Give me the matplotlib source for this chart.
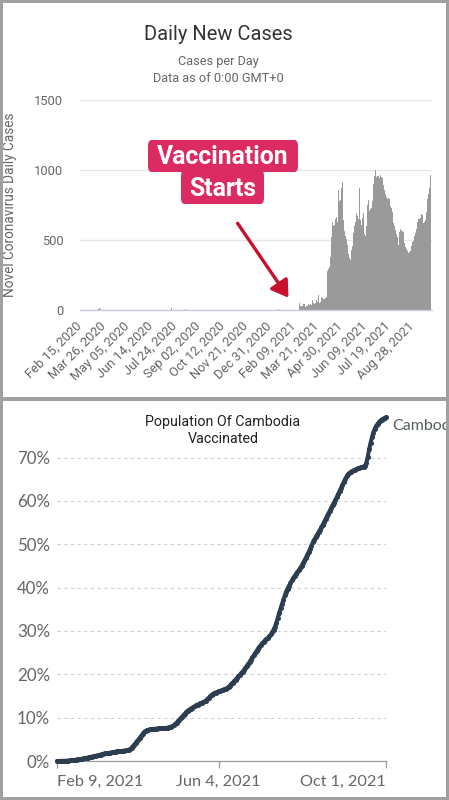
import matplotlib
matplotlib.use("Agg")
import matplotlib.pyplot as plt
from matplotlib.patches import Rectangle, FancyBboxPatch, FancyArrowPatch
import numpy as np
import pandas as pd

W, H = 449, 800

# --- top: daily new cases, Feb 15 2020 .. Sep 29 2021
case_start = "2020-02-15"
case_end = "2021-09-29"
early_dates = ["2020-03-17", "2020-03-18", "2020-03-19", "2020-03-20",
               "2020-07-14", "2020-07-18", "2020-07-19", "2020-08-11", "2021-01-14"]
early_cases = [8, 12, 26, 10, 14, 12, 16, 6, 8]
wave_start = "2021-02-18"
wave_cases = [
    36, 50, 60, 30, 30, 25, 30, 35, 43, 40,
    24, 24, 20, 26, 30, 60, 45, 36, 38, 40,
    32, 36, 50, 70, 95, 52, 45, 43, 50, 60,
    71, 55, 52, 110, 166, 48, 60, 80, 95, 85,
    83, 78, 76, 80, 83, 85, 90, 560, 280, 262,
    290, 300, 310, 380, 428, 520, 595, 630, 600, 570,
    610, 630, 650, 666, 640, 630, 720, 857, 780, 738,
    785, 800, 870, 916, 700, 640, 595, 565, 547, 530,
    510, 476, 465, 445, 400, 370, 345, 360, 385, 430,
    460, 520, 550, 571, 600, 630, 660, 690, 714, 670,
    650, 820, 868, 640, 640, 620, 607, 660, 714, 690,
    660, 540, 530, 524, 600, 690, 750, 785, 705, 708,
    714, 720, 728, 736, 780, 821, 900, 960, 1107, 1000,
    976, 950, 945, 960, 958, 952, 945, 945, 965, 950,
    920, 940, 960, 890, 860, 835, 827, 820, 805, 795,
    787, 800, 845, 790, 745, 730, 730, 738, 700, 670,
    620, 600, 585, 570, 555, 540, 520, 490, 465, 440,
    560, 575, 583, 565, 550, 565, 560, 495, 480, 464,
    450, 438, 430, 422, 416, 408, 405, 412, 420, 438,
    460, 478, 485, 495, 510, 525, 538, 550, 580, 615,
    625, 632, 650, 652, 642, 660, 678, 688, 680, 625,
    619, 619, 625, 632, 640, 700, 770, 790, 810, 830,
    870, 935, 964, 970,
]
case_ticks = ["Feb 15, 2020", "Mar 26, 2020", "May 05, 2020", "Jun 14, 2020",
              "Jul 24, 2020", "Sep 02, 2020", "Oct 12, 2020", "Nov 21, 2020",
              "Dec 31, 2020", "Feb 09, 2021", "Mar 21, 2021", "Apr 30, 2021",
              "Jun 09, 2021", "Jul 19, 2021", "Aug 28, 2021"]

# --- bottom: share of population vaccinated (%), Feb 9 2021 .. Oct 1 2021
vax_start = "2021-02-09"
vax_pct = [
    0.00, 0.00, 0.01, 0.02, 0.03, 0.04, 0.05, 0.07, 0.09, 0.12, 0.15,
    0.18, 0.22, 0.27, 0.32, 0.37, 0.42, 0.48, 0.55, 0.60, 0.66,
    0.73, 0.80, 0.88, 0.95, 1.02, 1.10, 1.16, 1.22, 1.30, 1.38,
    1.48, 1.58, 1.68, 1.75, 1.80, 1.84, 1.88, 1.92, 1.97, 2.05,
    2.12, 2.17, 2.21, 2.25, 2.28, 2.32, 2.36, 2.40, 2.44, 2.50,
    2.58, 2.75, 3.05, 3.40, 3.80, 4.20, 4.60, 5.00, 5.40, 5.85,
    6.30, 6.70, 6.95, 7.10, 7.20, 7.28, 7.34, 7.38, 7.42, 7.46,
    7.48, 7.50, 7.52, 7.54, 7.56, 7.58, 7.60, 7.64, 7.70, 7.78,
    7.88, 8.00, 8.20, 8.50, 8.85, 9.20, 9.55, 9.90, 10.25, 10.60,
    10.95, 11.30, 11.60, 11.85, 12.05, 12.25, 12.45, 12.65, 12.85, 13.00,
    13.15, 13.30, 13.45, 13.60, 13.75, 13.95, 14.25, 14.60, 14.95, 15.25,
    15.50, 15.65, 15.80, 15.95, 16.10, 16.20, 16.30, 16.40, 16.50, 16.65,
    16.85, 17.10, 17.40, 17.75, 18.10, 18.45, 18.80, 19.15, 19.50, 19.85,
    20.20, 20.60, 21.05, 21.50, 21.95, 22.40, 22.90, 23.40, 23.90, 24.40,
    24.90, 25.45, 25.95, 26.40, 26.80, 27.15, 27.50, 27.85, 28.15, 28.45,
    28.80, 29.20, 29.70, 30.30, 31.00, 31.90, 33.00, 34.10, 35.20, 36.20,
    37.20, 38.20, 39.10, 39.80, 40.45, 41.05, 41.65, 42.20, 42.70, 43.15,
    43.60, 44.05, 44.50, 45.05, 45.65, 46.25, 46.90, 47.55, 48.20, 48.90,
    49.70, 50.50, 51.10, 51.65, 52.20, 52.75, 53.30, 53.90, 54.50, 55.15,
    55.80, 56.45, 57.10, 57.75, 58.40, 59.05, 59.60, 60.25, 60.90, 61.60,
    62.30, 63.00, 63.70, 64.40, 65.10, 65.70, 66.15, 66.45, 66.70, 66.90,
    67.05, 67.20, 67.35, 67.50, 67.62, 67.75, 67.85, 67.95, 68.10, 68.70,
    70.20, 71.90, 73.40, 74.70, 75.80, 76.70, 77.30, 77.80, 78.20, 78.55,
    78.80, 79.00, 79.15, 79.30,
]
vax_ticks = ["Feb 9, 2021", "Jun 4, 2021", "Oct 1, 2021"]
vax_yticks = [0, 10, 20, 30, 40, 50, 60, 70]
vax_label = "Cambod"   # series label, cut off by the frame in the original


def fx(px):
    return px / W


def fy(py):
    return 1 - py / H


ROBOTO = ["Roboto", "DejaVu Sans"]
LATO = ["Lato", "DejaVu Sans"]

fig = plt.figure(figsize=(W / 100, H / 100), dpi=100, facecolor="white")

# ---------------- top panel ----------------
days = pd.date_range(case_start, case_end, freq="D")
cases = pd.Series(0.0, index=days)
cases[pd.to_datetime(early_dates)] = early_cases
wave_idx = pd.date_range(wave_start, periods=len(wave_cases), freq="D")
cases[wave_idx] = wave_cases
xpos = np.arange(len(days))

ax = fig.add_axes([fx(80), fy(310), 352 / W, 210 / H])
ax.bar(xpos, cases.values, width=1.0, color="#9a9a9a", edgecolor="none", zorder=2)
ax.set_xlim(-0.5, len(days) + 0.5)
ax.set_ylim(0, 1500)
ax.set_yticks([0, 500, 1000, 1500])
ax.grid(axis="y", color="#e6e6e6", lw=1, zorder=0)
for s in ["top", "right", "left"]:
    ax.spines[s].set_visible(False)
ax.spines["bottom"].set_color("#c8ced8")
ax.spines["bottom"].set_linewidth(1)
tick_pos = [(pd.to_datetime(t, format="%b %d, %Y") - days[0]).days for t in case_ticks]
ax.set_xticks(tick_pos)
ax.set_xticklabels(case_ticks, rotation=45, ha="right", va="center",
                   rotation_mode="anchor", family=ROBOTO, fontsize=9.3, color="#666666")
ax.tick_params(axis="x", length=0, pad=10)
ax.tick_params(axis="y", length=0, pad=12, labelsize=9.3, labelcolor="#666666")
for lb in ax.get_yticklabels():
    lb.set_family(ROBOTO)
ax.set_ylabel("Novel Coronavirus Daily Cases", family=ROBOTO, fontsize=9.8, color="#666666")
ax.yaxis.set_label_coords(-0.179, 0.5)

fig.text(fx(218), fy(34), "Daily New Cases", ha="center", va="center",
         family=ROBOTO, fontsize=14.5, color="#333333")
fig.text(fx(218), fy(61), "Cases per Day", ha="center", va="center",
         family=ROBOTO, fontsize=9.2, color="#666666")
fig.text(fx(218), fy(79), "Data as of 0:00 GMT+0", ha="center", va="center",
         family=ROBOTO, fontsize=9.2, color="#666666")

# annotation boxes + arrow
PINK = "#dc2b62"
for (x0, y0, x1, y1) in [(148, 140, 298, 172), (181, 170, 264, 204)]:
    fig.add_artist(FancyBboxPatch((fx(x0), fy(y1)), (x1 - x0) / W, (y1 - y0) / H,
                                  boxstyle="round,pad=0,rounding_size=0.008",
                                  transform=fig.transFigure, facecolor=PINK,
                                  edgecolor="none", zorder=5))
fig.text(fx(223), fy(157), "Vaccination", ha="center", va="center", family=ROBOTO,
         fontsize=17.8, fontweight="bold", color="white", zorder=6)
fig.text(fx(222.5), fy(189), "Starts", ha="center", va="center", family=ROBOTO,
         fontsize=17.8, fontweight="bold", color="white", zorder=6)
fig.add_artist(FancyArrowPatch((fx(236), fy(221)), (fx(290), fy(300)),
                               transform=fig.transFigure,
                               arrowstyle="-|>,head_length=0.55,head_width=0.35",
                               mutation_scale=18, color="#c8102e", lw=2.4, zorder=6))

# ---------------- bottom panel ----------------
vdates = pd.date_range(vax_start, periods=len(vax_pct), freq="D")
bx = fig.add_axes([fx(57), fy(761), 329 / W, 346.7 / H])
bx.plot(vdates, vax_pct, color="#2c3d50", lw=2.9, marker="o", ms=3.6,
        markeredgewidth=0, solid_capstyle="round", clip_on=False, zorder=3)
bx.set_xlim(vdates[0], vdates[-1])
bx.set_ylim(0, 80)
bx.set_yticks(vax_yticks)
bx.set_yticklabels([f"{v}%" for v in vax_yticks], family=LATO, fontsize=12.2, color="#666666")
for v in vax_yticks[1:]:
    bx.axhline(v, color="#d0d0d0", lw=0.8, ls=(0, (3, 3)), zorder=1)
for s in ["top", "right", "left"]:
    bx.spines[s].set_visible(False)
bx.spines["bottom"].set_color("#999999")
bx.spines["bottom"].set_linewidth(0.9)
bx.tick_params(axis="y", length=0, pad=5)
bx.set_xticks(pd.to_datetime(vax_ticks, format="%b %d, %Y"))
bx.set_xticklabels(vax_ticks, family=LATO, fontsize=11.7, color="#666666")
bx.tick_params(axis="x", length=5, width=0.9, color="#999999", pad=5)
xl = bx.get_xticklabels()
xl[0].set_ha("left")
xl[-1].set_ha("right")

fig.text(fx(223), fy(430.5), "Population Of Cambodia\nVaccinated", ha="center",
         va="center", family=ROBOTO, fontsize=10.3, color="#222222", linespacing=1.25)
fig.text(fx(392), fy(426), vax_label, ha="left", va="center", family=LATO,
         fontsize=11.5, color="#555f60")

# ---------------- frame ----------------
FRAME = "#a0a0a0"
for (x0, y0, w, h) in [(0, 0, W, 3), (0, H - 3, W, 3), (0, 0, 3, H), (W - 3, 0, 3, H),
                       (0, 397, W, 4)]:
    fig.add_artist(Rectangle((fx(x0), fy(y0 + h)), w / W, h / H, transform=fig.transFigure,
                             facecolor=FRAME, edgecolor="none", zorder=20))

fig.savefig("out.png", dpi=100, facecolor="white")
